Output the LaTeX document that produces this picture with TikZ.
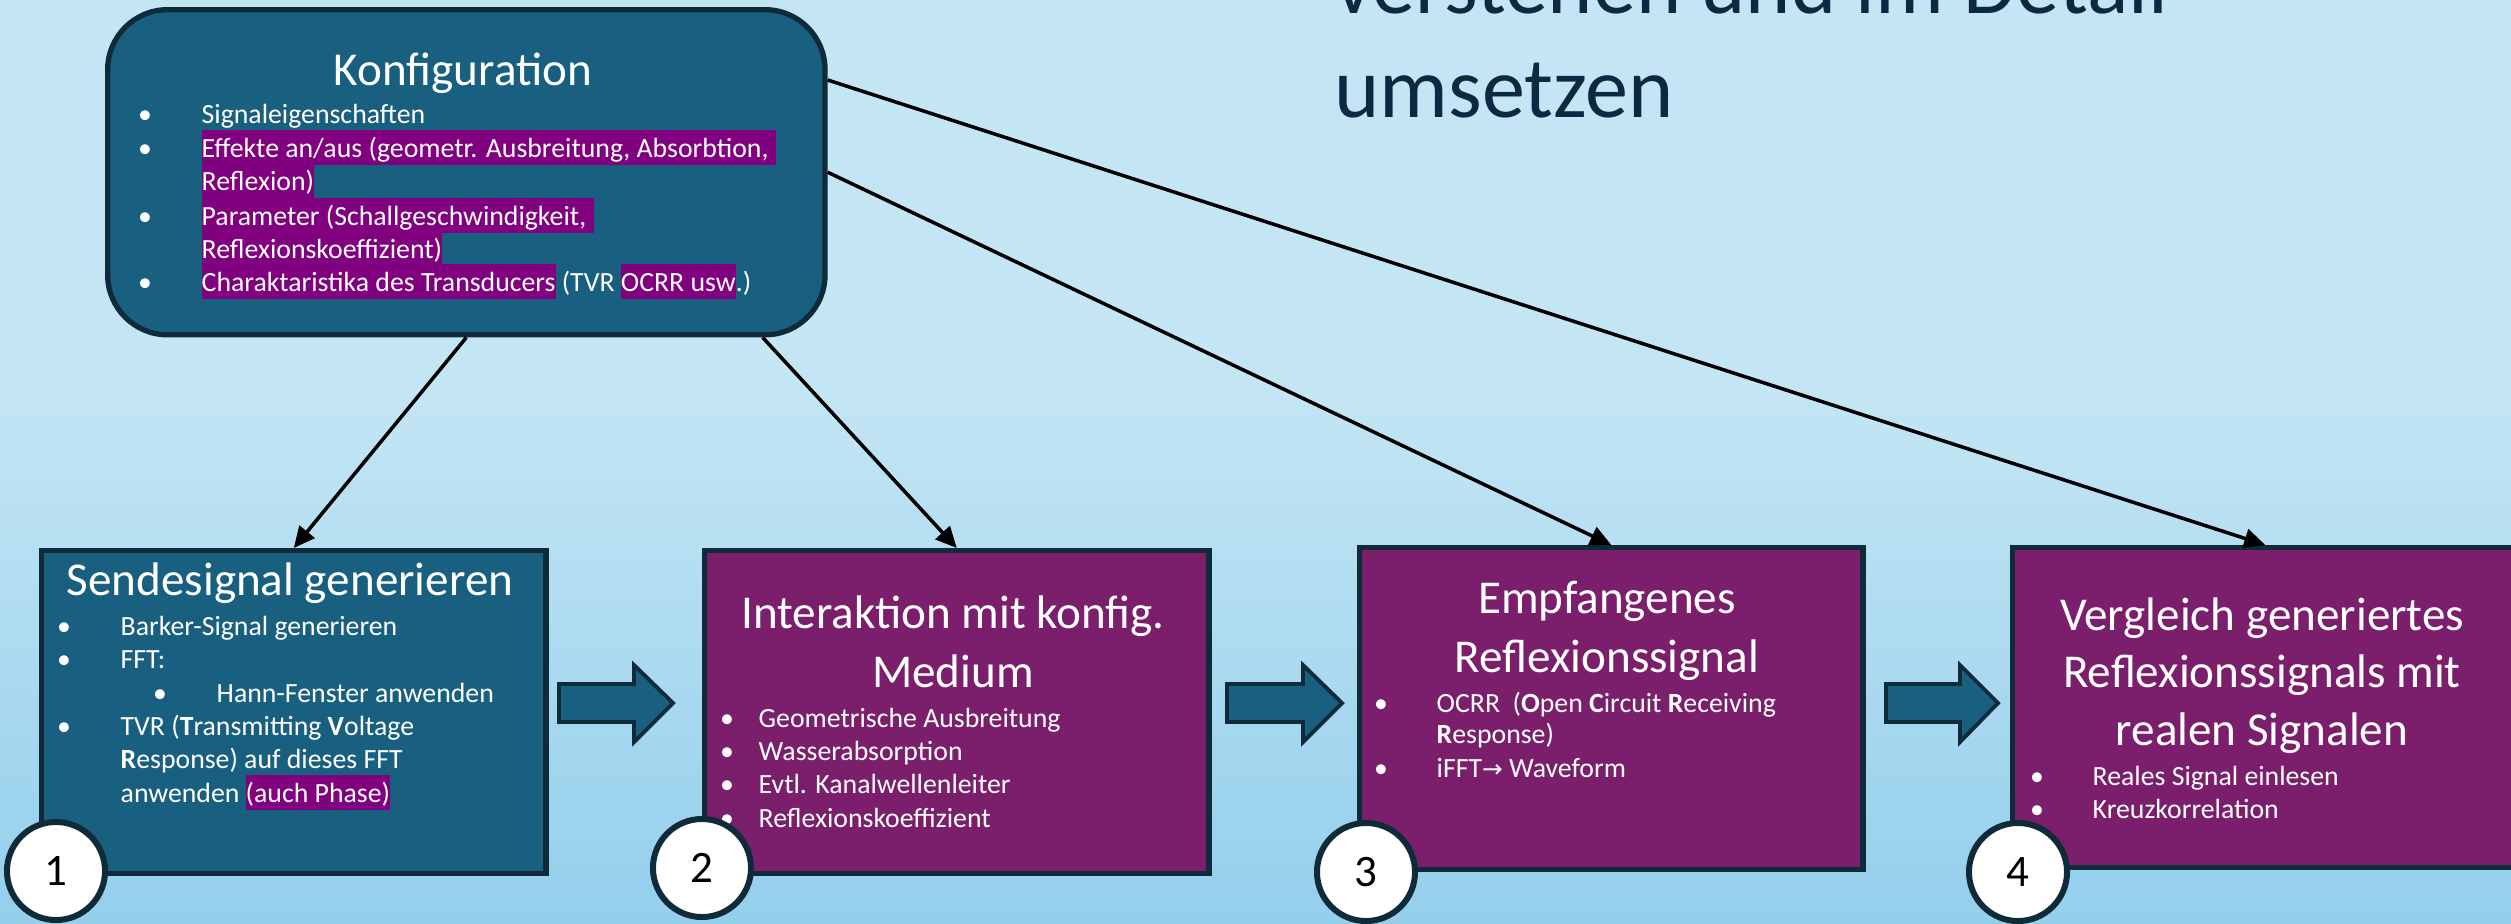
\documentclass[tikz,border=0pt]{standalone}
\usepackage{fontspec}
\setmainfont{Carlito}
\newfontfamily\djv{DejaVu Sans}
\usetikzlibrary{arrows.meta,calc}
\definecolor{bgtop}{HTML}{C3E5F4}
\definecolor{bgbot}{HTML}{94CFEC}
\definecolor{tealbox}{HTML}{185F80}
\definecolor{purpbox}{HTML}{7B1F6C}
\definecolor{hlpurple}{HTML}{800080}
\definecolor{edgedark}{HTML}{0F2B3A}
\definecolor{navytext}{HTML}{0E2841}
\newcommand\hlp[1]{{\setlength{\fboxsep}{0pt}\colorbox{hlpurple}{\rule[-2.3pt]{0pt}{9.9pt}#1}}}
\tikzset{
  bluebox/.style={draw=edgedark, line width=1.5pt, fill=tealbox, inner sep=0pt},
  purplebox/.style={draw=edgedark, line width=1.5pt, fill=purpbox, inner sep=0pt},
  numcircle/.style={circle, draw=edgedark, line width=1.7pt, fill=white, inner sep=0pt, minimum size=0.98cm, font=\fontsize{12.8}{14}\selectfont, text=black},
  ttl/.style={anchor=base, inner sep=0pt, text=white, font=\fontsize{13.4}{16}\selectfont},
  btxt/.style={anchor=base west, inner sep=0pt, text=white, font=\fontsize{7.9}{9.5}\selectfont},
  bul/.style={anchor=base, inner sep=0pt, text=white, font=\fontsize{7.9}{9.5}\selectfont},
  conn/.style={draw=black, line width=1pt, -{Triangle[length=6pt,width=5.5pt]}},
  blockarrow/.style={fill=tealbox, draw=edgedark, line width=1.1pt, line join=miter},
  bigtitle/.style={anchor=base west, inner sep=0pt, text=navytext, font=\fontsize{24.5}{29}\selectfont}
}
\newcommand\bline[5]{\node[bul] (#1b) at (#2,#4) {•}; \node[btxt] (#1) at (#3,#4) {#5};}
\begin{document}
\begin{tikzpicture}[x=0.01cm,y=-0.01cm]
\useasboundingbox (0,0) rectangle (2511,923);
\clip (0,0) rectangle (2511,923);
% background
\fill[bgtop] (0,0) rectangle (2511,400);
\shade[top color=bgtop, bottom color=bgbot] (0,399) rectangle (2511,923);

% top-right title
\node[bigtitle] (t1) at (1334,13) {verstehen und im Detail};
\node[bigtitle] (t2) at (1334,117) {umsetzen};

% Konfiguration box
\node[bluebox, rounded corners=0.6cm, anchor=north west, minimum width=7.17cm, minimum height=3.25cm] (konfig) at (105,7) {};
\node[ttl] (kt) at (463,85) {Konfiguration};
\bline{k1}{145}{201}{123}{Signaleigenschaften}
\bline{k2}{145}{201}{157}{\hlp{Effekte an/aus (geometr. Ausbreitung, Absorbtion,\hspace{2.2pt}}}
\node[btxt] (k3) at (201,190) {\hlp{Reflexion)}};
\bline{k4}{145}{201}{225}{\hlp{Parameter (Schallgeschwindigkeit,\hspace{2.2pt}}}
\node[btxt] (k5) at (201,258) {\hlp{Reflexionskoeffizient)}};
\bline{k6}{145}{201}{291}{\hlp{Charaktaristika des Transducers} (TVR \hlp{OCRR usw}.)}

% Box 1
\node[bluebox, anchor=north west, minimum width=5.04cm, minimum height=3.23cm] (b1) at (39,548) {};
\node[ttl] (b1t) at (290,595) {Sendesignal generieren};
\bline{a1}{64}{120}{635}{Barker-Signal generieren}
\bline{a2}{64}{120}{668}{FFT:}
\bline{a3}{160}{216}{702}{Hann-Fenster anwenden}
\bline{a4}{64}{120}{735}{TVR (\textbf{T}ransmitting \textbf{V}oltage}
\node[btxt] (a5) at (120,768) {\textbf{R}esponse) auf dieses FFT};
\node[btxt] (a6) at (120,802) {anwenden \hlp{(auch Phase)}};

% Box 2
\node[purplebox, anchor=north west, minimum width=5.04cm, minimum height=3.23cm] (b2) at (702,548) {};
\node[ttl] (b2t1) at (953,628) {Interaktion mit konfig.};
\node[ttl] (b2t2) at (953,687) {Medium};
\bline{c1}{727}{758}{727}{Geometrische Ausbreitung}
\bline{c2}{727}{758}{760}{Wasserabsorption}
\bline{c3}{727}{758}{793}{Evtl. Kanalwellenleiter}
\bline{c4}{727}{758}{827}{Reflexionskoeffizient}

% Box 3
\node[purplebox, anchor=north west, minimum width=5.03cm, minimum height=3.22cm] (b3) at (1357,545) {};
\node[ttl] (b3t1) at (1607,613) {Empfangenes};
\node[ttl] (b3t2) at (1607,672) {Reflexionssignal};
\bline{d1}{1381}{1436}{712}{OCRR\ \ (\textbf{O}pen \textbf{C}ircuit \textbf{R}eceiving}
\node[btxt] (d2) at (1436,743) {\textbf{R}esponse)};
\bline{d3}{1381}{1436}{777}{iFFT{\djv\fontsize{7}{9}\selectfont →} Waveform}

% Box 4
\node[purplebox, anchor=north west, minimum width=5.05cm, minimum height=3.2cm] (b4) at (2010,545) {};
\node[ttl] (b4t1) at (2262,630) {Vergleich generiertes};
\node[ttl] (b4t2) at (2262,687) {Reflexionssignals mit};
\node[ttl] (b4t3) at (2262,745) {realen Signalen};
\bline{e1}{2037}{2092}{785}{Reales Signal einlesen}
\bline{e2}{2037}{2092}{818}{Kreuzkorrelation}

% number circles
\node[numcircle] (n1) at (56,871) {1};
\node[numcircle] (n2) at (702,868) {2};
\node[numcircle] (n3) at (1366,872) {3};
\node[numcircle] (n4) at (2018,872) {4};

% block arrows
\path[blockarrow] (559,684) -- (634,684) -- (634,665) -- (673,703) -- (634,742) -- (634,722) -- (559,722) -- cycle;
\path[blockarrow] (1227,684) -- (1303,684) -- (1303,665) -- (1342,703) -- (1303,742) -- (1303,722) -- (1227,722) -- cycle;
\path[blockarrow] (1886,684) -- (1960,684) -- (1960,665) -- (1998,703) -- (1960,742) -- (1960,722) -- (1886,722) -- cycle;

% connectors
\draw[conn] (konfig.south) -- (b1.north);
\draw[conn] ($(konfig.south east)+(-65,0)$) -- (b2.north);
\draw[conn] (konfig.east) -- (b3.north);
\draw[conn] ($(konfig.north east)+(0,73)$) -- (b4.north);
\end{tikzpicture}
\end{document}
